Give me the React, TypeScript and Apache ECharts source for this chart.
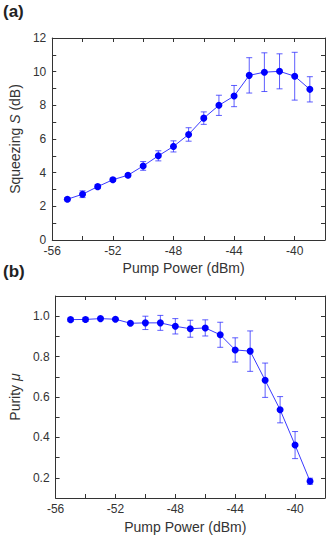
import React, { useEffect, useRef } from "react";
import * as echarts from "echarts";

const pumpPower = [-55, -54, -53, -52, -51, -50, -49, -48, -47, -46, -45, -44, -43, -42, -41, -40, -39];
const squeezing = [2.42, 2.72, 3.17, 3.58, 3.85, 4.4, 5.0, 5.56, 6.27, 7.24, 8.0, 8.55, 9.78, 9.97, 10.02, 9.73, 8.95];
const squeezingErr = [0.1, 0.2, 0.12, 0.1, 0.1, 0.26, 0.3, 0.33, 0.4, 0.37, 0.6, 0.63, 1.05, 1.15, 1.04, 1.42, 0.75];
const purity = [0.983, 0.984, 0.988, 0.985, 0.965, 0.967, 0.967, 0.95, 0.938, 0.942, 0.908, 0.833, 0.827, 0.683, 0.537, 0.362, 0.183];
const purityErr = [0.008, 0.01, 0.006, 0.005, 0.005, 0.033, 0.037, 0.038, 0.042, 0.04, 0.062, 0.06, 0.1, 0.085, 0.065, 0.067, 0.015];

const FONT = "'Liberation Sans', Arial, sans-serif";
const AXIS_COLOR = "#333";
const LABEL_COLOR = "#333";

function errRender(params: any, api: any) {
  const x = api.value(0);
  const y = api.value(1);
  const e = api.value(2);
  const hi = api.coord([x, y + e]);
  const lo = api.coord([x, y - e]);
  const w = 3;
  const style = { stroke: "rgba(40,40,255,0.75)", lineWidth: 1, fill: null };
  return {
    type: "group",
    children: [
      { type: "line", shape: { x1: hi[0], y1: hi[1], x2: lo[0], y2: lo[1] }, style },
      { type: "line", shape: { x1: hi[0] - w, y1: hi[1], x2: hi[0] + w, y2: hi[1] }, style },
      { type: "line", shape: { x1: lo[0] - w, y1: lo[1], x2: lo[0] + w, y2: lo[1] }, style },
    ],
  };
}

export default function App() {
  const ref = useRef<HTMLDivElement>(null);
  useEffect(() => {
    if (!ref.current) return;
    const chart = echarts.init(ref.current, null, { renderer: "svg" });

    const xBase = (gridIndex: number, top: boolean, nameGap: number) => ({
      type: "value",
      gridIndex,
      position: top ? "top" : "bottom",
      min: -56,
      max: -38,
      interval: 2,
      name: top ? "" : "Pump Power (dBm)",
      nameLocation: "middle",
      nameGap,
      nameTextStyle: { fontFamily: FONT, fontSize: 14, color: LABEL_COLOR, padding: [0, 10, 0, 0] },
      axisLine: { show: true, onZero: false, lineStyle: { color: AXIS_COLOR, width: 1 } },
      axisTick: { show: true, inside: true, length: 4, lineStyle: { color: AXIS_COLOR } },
      axisLabel: {
        show: !top,
        margin: 5,
        lineHeight: 12,
        fontFamily: FONT,
        fontSize: 12,
        color: LABEL_COLOR,
        showMaxLabel: false,
        formatter: (v: number) => (Math.round(v) % 4 === 0 && v < -38 ? String(v) : ""),
      },
      splitLine: { show: false },
    });

    const yTop = (right: boolean) => ({
      type: "value",
      gridIndex: 0,
      position: right ? "right" : "left",
      min: 0,
      max: 12,
      interval: 1,
      name: right ? "" : "Squeezing {i|S} (dB)",
      nameLocation: "middle",
      nameGap: 29,
      nameRotate: 90,
      nameTextStyle: {
        fontFamily: FONT,
        fontSize: 14,
        color: LABEL_COLOR,
        rich: { i: { fontFamily: FONT, fontSize: 14, fontStyle: "italic", color: LABEL_COLOR } },
      },
      axisLine: { show: true, onZero: false, lineStyle: { color: AXIS_COLOR, width: 1 } },
      axisTick: { show: true, inside: true, length: 4, lineStyle: { color: AXIS_COLOR } },
      axisLabel: {
        show: !right,
        margin: 6,
        lineHeight: 10,
        fontFamily: FONT,
        fontSize: 12,
        color: LABEL_COLOR,
        formatter: (v: number) => (Math.round(v) % 2 === 0 ? String(Math.round(v)) : ""),
      },
      splitLine: { show: false },
    });

    const yBot = (right: boolean) => ({
      type: "value",
      gridIndex: 1,
      position: right ? "right" : "left",
      min: 0.1,
      max: 1.1,
      interval: 0.1,
      name: right ? "" : "Purity {i|μ}",
      nameLocation: "middle",
      nameGap: 32,
      nameRotate: 90,
      nameTextStyle: {
        fontFamily: FONT,
        fontSize: 14,
        color: LABEL_COLOR,
        rich: { i: { fontFamily: FONT, fontSize: 14, fontStyle: "italic", color: LABEL_COLOR } },
      },
      axisLine: { show: true, onZero: false, lineStyle: { color: AXIS_COLOR, width: 1 } },
      axisTick: { show: true, inside: true, length: 4, lineStyle: { color: AXIS_COLOR } },
      axisLabel: {
        show: !right,
        margin: 6,
        lineHeight: 10,
        fontFamily: FONT,
        fontSize: 12,
        color: LABEL_COLOR,
        showMinLabel: false,
        showMaxLabel: false,
        formatter: (v: number) => {
          const k = Math.round(v * 10);
          return k % 2 === 0 && k >= 2 && k <= 10 ? (k / 10).toFixed(1) : "";
        },
      },
      splitLine: { show: false },
    });

    const lineSeries = (idx: number, vals: number[]) => ({
      type: "line",
      xAxisIndex: idx * 2,
      yAxisIndex: idx * 2,
      data: pumpPower.map((x, i) => [x, vals[i]]),
      symbol: "circle",
      symbolSize: 7,
      itemStyle: { color: "#0000ff" },
      lineStyle: { color: "#3a3aff", width: 1 },
      z: 3,
    });

    const errSeries = (idx: number, vals: number[], errs: number[]) => ({
      type: "custom",
      xAxisIndex: idx * 2,
      yAxisIndex: idx * 2,
      data: pumpPower.map((x, i) => [x, vals[i], errs[i]]),
      renderItem: errRender,
      z: 2,
    });

    chart.setOption({
      animation: false,
      backgroundColor: "#fff",
      grid: [
        { left: 49, top: 38, width: 276, height: 202 },
        { left: 49, top: 296, width: 276, height: 204 },
      ],
      xAxis: [xBase(0, false, 21), xBase(0, true, 0), xBase(1, false, 22), xBase(1, true, 0)],
      yAxis: [yTop(false), yTop(true), yBot(false), yBot(true)],
      series: [
        errSeries(0, squeezing, squeezingErr),
        lineSeries(0, squeezing),
        errSeries(1, purity, purityErr),
        lineSeries(1, purity),
      ],
      graphic: [
        {
          type: "text",
          left: 3,
          top: 3,
          style: { text: "(a)", fontFamily: FONT, fontSize: 17, fontWeight: "bold", fill: "#222" },
        },
        {
          type: "text",
          left: 3,
          top: 263,
          style: { text: "(b)", fontFamily: FONT, fontSize: 17, fontWeight: "bold", fill: "#222" },
        },
      ],
    });
    return () => chart.dispose();
  }, []);

  return <div ref={ref} style={{ position: "absolute", left: 0, top: 0, width: 332, height: 535 }} />;
}
